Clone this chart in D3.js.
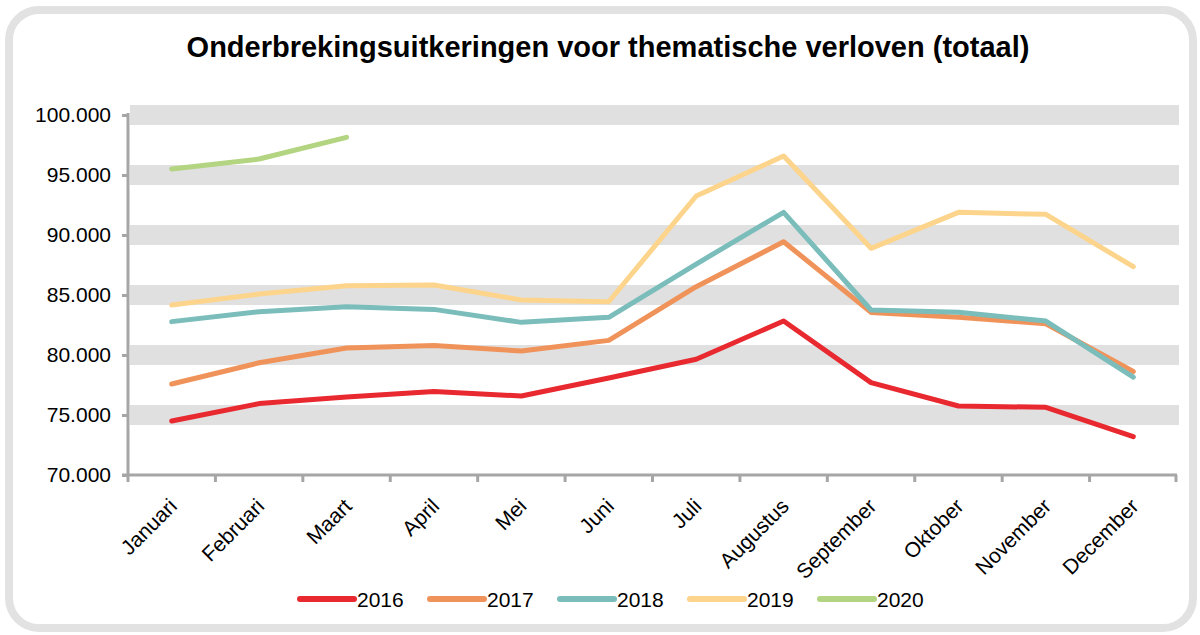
<!DOCTYPE html>
<html>
<head>
<meta charset="utf-8">
<script src="https://cdn.jsdelivr.net/npm/d3@7"></script>
<style>
  body { margin: 0; background: #fff; }
  svg { display: block; font-family: Arial, "Liberation Sans", sans-serif; }
</style>
</head>
<body>
<svg id="grafiek" width="1200" height="635"></svg>
<script>
"use strict";

// Gegevens
var maanden = ["Januari", "Februari", "Maart", "April", "Mei", "Juni", "Juli", "Augustus", "September", "Oktober", "November", "December"];
var jaren = ["2016", "2017", "2018", "2019", "2020"];
var kleuren = ["#e8292f", "#f0935a", "#7abdba", "#fcd48c", "#b3d480"];
var waarden2016 = [74500, 75950, 76500, 76950, 76580, 78080, 79650, 82830, 77700, 75750, 75640, 73200];
var waarden2017 = [77580, 79350, 80580, 80800, 80330, 81220, 85690, 89440, 83550, 83150, 82600, 78620];
var waarden2018 = [82780, 83610, 84030, 83800, 82720, 83140, 87580, 91890, 83750, 83560, 82830, 78150];
var waarden2019 = [84170, 85080, 85780, 85830, 84580, 84440, 93250, 96580, 88890, 91890, 91720, 87360];
var waarden2020 = [95500, 96330, 98140];
var yTicks = [70000, 75000, 80000, 85000, 90000, 95000, 100000];

var reeksen = [waarden2016, waarden2017, waarden2018, waarden2019, waarden2020];

var svg = d3.select("#grafiek");

// Kader met ronde hoeken
svg.append("rect")
    .attr("x", 9).attr("y", 10)
    .attr("width", 1184).attr("height", 618)
    .attr("rx", 30)
    .style("fill", "#fff")
    .style("stroke", "#e2e2e2")
    .style("stroke-width", 8);

// Titel
svg.append("text")
    .attr("x", 608).attr("y", 57)
    .attr("text-anchor", "middle")
    .style("font-size", "29px")
    .style("font-weight", "bold")
    .style("fill", "#000")
    .text("Onderbrekingsuitkeringen voor thematische verloven (totaal)");

var links = 128, rechts = 1177, boven = 115, onder = 475;

var x = d3.scaleBand().domain(maanden).range([links, rechts]);
var y = d3.scaleLinear().domain([70000, 100000]).range([onder, boven]);

// Grijze banden rond de rasterlijnen
svg.append("g")
    .selectAll("rect")
    .data(yTicks.filter(function (t) { return t > 70000; }))
    .enter().append("rect")
    .attr("x", links + 2)
    .attr("width", rechts - links)
    .attr("y", function (d) { return y(d) - 10; })
    .attr("height", 20)
    .style("fill", "#e0e0e0");

// Y-as
var yAs = svg.append("g")
    .attr("transform", "translate(" + links + ",0)")
    .call(d3.axisLeft(y)
        .tickValues(yTicks)
        .tickSize(6)
        .tickPadding(11)
        .tickFormat(function (d) { return d3.format(",")(d).replace(/,/g, "."); }));
yAs.select(".domain").remove();
yAs.selectAll(".tick line").style("stroke", "#a6a6a6").style("stroke-width", 3);
yAs.selectAll("text").style("font-size", "21px").style("fill", "#000").style("font-family", "Arial, 'Liberation Sans', sans-serif");
svg.append("line")
    .attr("x1", links).attr("x2", links)
    .attr("y1", boven - 2).attr("y2", onder + 1)
    .style("stroke", "#a6a6a6").style("stroke-width", 3);

// X-as
var xAs = svg.append("g").attr("transform", "translate(0," + onder + ")");
xAs.append("line")
    .attr("x1", links - 6).attr("x2", rechts)
    .style("stroke", "#a6a6a6").style("stroke-width", 3);
xAs.selectAll("line.tik")
    .data(maanden.map(function (m) { return x(m); }).concat([rechts - 1]))
    .enter().append("line")
    .attr("class", "tik")
    .attr("x1", function (d) { return d; }).attr("x2", function (d) { return d; })
    .attr("y1", 0).attr("y2", 7)
    .style("stroke", "#a6a6a6").style("stroke-width", 3);
xAs.selectAll("text")
    .data(maanden)
    .enter().append("text")
    .attr("transform", function (d) { return "translate(" + (x(d) + x.bandwidth() / 2 - 4) + ",22) rotate(-45)"; })
    .attr("text-anchor", "end")
    .attr("dy", "0.71em")
    .style("font-size", "21px")
    .style("fill", "#000")
    .text(function (d) { return d; });

// Lijnen
var lijn = d3.line()
    .x(function (d, i) { return x(maanden[i]) + x.bandwidth() / 2; })
    .y(function (d) { return y(d); });

svg.append("g")
    .selectAll("path")
    .data(reeksen)
    .enter().append("path")
    .attr("d", lijn)
    .style("fill", "none")
    .style("stroke", function (d, i) { return kleuren[i]; })
    .style("stroke-width", 5)
    .style("stroke-linecap", "round")
    .style("stroke-linejoin", "round");

// Legenda
var legenda = svg.append("g")
    .selectAll("g")
    .data(jaren)
    .enter().append("g")
    .attr("transform", function (d, i) { return "translate(" + (300 + i * 130) + ",599)"; });
legenda.append("line")
    .attr("x1", 0).attr("x2", 54)
    .style("stroke", function (d, i) { return kleuren[i]; })
    .style("stroke-width", 6)
    .style("stroke-linecap", "round");
legenda.append("text")
    .attr("x", 57).attr("dy", "0.36em")
    .style("font-size", "21px")
    .style("fill", "#000")
    .text(function (d) { return d; });
</script>
</body>
</html>
